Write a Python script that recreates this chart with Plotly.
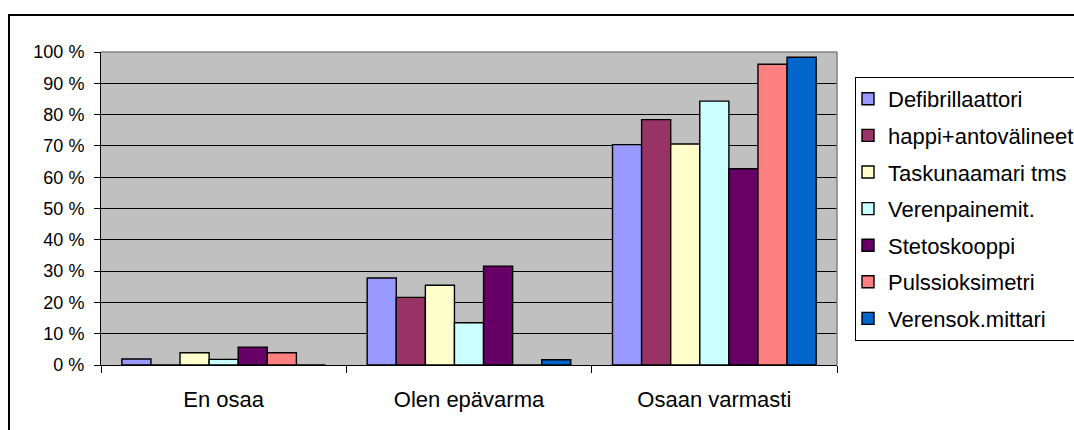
import plotly.graph_objects as go

# Response categories (x axis)
categories = ["En osaa", "Olen epävarma", "Osaan varmasti"]

# Share of respondents per device, percent, in category order
defibrillaattori = [1.9, 27.8, 70.4]
happi_antovalineet = [0.0, 21.6, 78.4]
taskunaamari = [3.9, 25.5, 70.6]
verenpainemit = [1.8, 13.5, 84.3]
stetoskooppi = [5.7, 31.6, 62.7]
pulssioksimetri = [3.9, 0.0, 96.1]
verensokeri = [0.0, 1.7, 98.3]

series_names = [
    "Defibrillaattori",
    "happi+antovälineet",
    "Taskunaamari tms",
    "Verenpainemit.",
    "Stetoskooppi",
    "Pulssioksimetri",
    "Verensok.mittari",
]
series_values = [
    defibrillaattori,
    happi_antovalineet,
    taskunaamari,
    verenpainemit,
    stetoskooppi,
    pulssioksimetri,
    verensokeri,
]
series_colors = ["#9999FF", "#993366", "#FFFFCC", "#CCFFFF", "#660066", "#FF8080", "#0066CC"]

# Y axis ticks
y_tick_values = [0, 10, 20, 30, 40, 50, 60, 70, 80, 90, 100]
y_tick_labels = [f"{v} %" for v in y_tick_values]

W, H = 1074, 430
PL, PR, PT, PB = 101, 837, 52, 365  # plot area in pixels


def px_x(px):
    return (px - PL) / (PR - PL)


def px_y(py):
    return (PB - py) / (PB - PT)


FONT = "Arial, 'Liberation Sans', sans-serif"

fig = go.Figure()
for i, (name, vals, col) in enumerate(zip(series_names, series_values, series_colors)):
    fig.add_trace(
        go.Bar(
            name=name,
            x=categories,
            y=vals,
            marker=dict(color=col, line=dict(color="black", width=1.4)),
            legendgroup=f"g{i}",
        )
    )

fig.update_layout(
    width=W,
    height=H,
    margin=dict(l=PL, r=W - PR, t=PT, b=H - PB, pad=0, autoexpand=False),
    paper_bgcolor="white",
    plot_bgcolor="#C0C0C0",
    barmode="group",
    bargap=0.17,
    bargroupgap=0,
    font=dict(family=FONT, color="black"),
    legend=dict(
        x=px_x(855),
        y=px_y(77),
        xanchor="left",
        yanchor="top",
        bordercolor="black",
        borderwidth=1,
        bgcolor="white",
        font=dict(size=22, family=FONT, color="black"),
        tracegroupgap=5,
        traceorder="grouped",
        indentation=-8,
        itemclick=False,
    ),
    showlegend=True,
)

fig.update_yaxes(
    range=[0, 100],
    tickvals=y_tick_values,
    ticktext=y_tick_labels,
    showgrid=True,
    gridcolor="black",
    gridwidth=1,
    showline=True,
    linecolor="black",
    linewidth=1,
    ticks="outside",
    ticklen=6,
    tickcolor="black",
    tickfont=dict(size=18, family=FONT, color="black"),
    ticklabelstandoff=6,
    zeroline=False,
    fixedrange=True,
)
fig.update_xaxes(
    showgrid=False,
    showline=True,
    linecolor="black",
    linewidth=1,
    ticks="outside",
    tickson="boundaries",
    ticklen=7,
    tickcolor="black",
    tickfont=dict(size=22, family=FONT, color="black"),
    ticklabelstandoff=15,
    fixedrange=True,
)

# Gray border on top and right of the plot area
fig.add_shape(type="line", xref="paper", yref="paper", x0=0, x1=1, y0=1, y1=1,
              line=dict(color="#808080", width=1.5), layer="above")
fig.add_shape(type="line", xref="paper", yref="paper", x0=1, x1=1, y0=0, y1=1,
              line=dict(color="#808080", width=1.5), layer="above")

# Outer chart frame
fig.add_shape(type="rect", xref="paper", yref="paper",
              x0=px_x(9), x1=px_x(1100), y0=px_y(15), y1=px_y(445),
              line=dict(color="black", width=2), fillcolor="rgba(0,0,0,0)", layer="below")

fig.write_html("out.html")
